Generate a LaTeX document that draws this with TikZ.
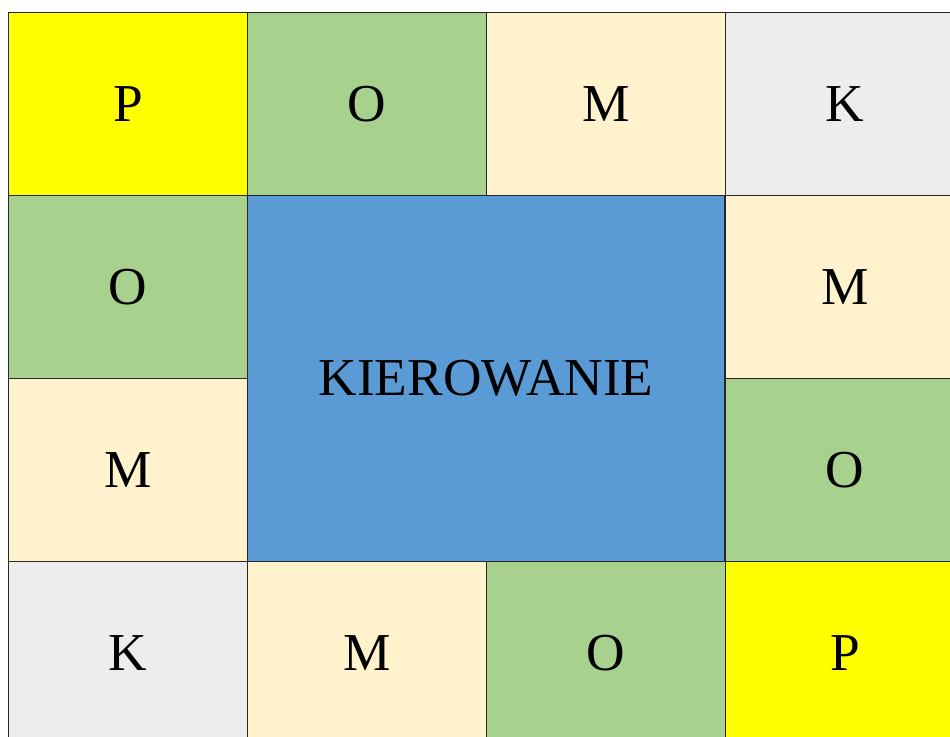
\documentclass[tikz,border=0pt]{standalone}
\usepackage{fontspec}
\setmainfont{Liberation Serif}
\usepackage{tikz}
\definecolor{kyellow}{HTML}{FFFF00}
\definecolor{kgreen}{HTML}{A9D18E}
\definecolor{kcream}{HTML}{FFF2CC}
\definecolor{kgray}{HTML}{EDEDED}
\definecolor{kblue}{HTML}{5B9BD5}
\definecolor{kline}{HTML}{262626}
\begin{document}
\begin{tikzpicture}[x=0.75pt, y=-0.75pt,
    cell/.style={draw=kline, line width=1pt, inner sep=0pt,
        minimum width=179.25pt, minimum height=137.25pt,
        font=\fontsize{40}{46}\selectfont}]
\useasboundingbox (0,0) rectangle (950,737);
\clip (0,0) rectangle (950,737);
% Ring of letter cells: name/column/row/colour/letter
\foreach \n/\c/\r/\col/\letter in {p1/0/0/kyellow/P,o1/1/0/kgreen/O,m1/2/0/kcream/M,k1/3/0/kgray/K,
    o2/0/1/kgreen/O,m2/3/1/kcream/M,
    m3/0/2/kcream/M,o3/3/2/kgreen/O,
    k4/0/3/kgray/K,m4/1/3/kcream/M,o4/2/3/kgreen/O,p4/3/3/kyellow/P} {
    \node[cell, fill=\col] (\n) at ({8.5+239*(\c+0.5)},{12.5+183*(\r+0.5)}) {\raisebox{-1.5pt}{\letter}};
}
% Centre block
\node[cell, fill=kblue, minimum width=357.75pt, minimum height=274.5pt] (kier) at (486,378.5) {\raisebox{-1pt}{KIEROWANIE}};
\end{tikzpicture}
\end{document}
